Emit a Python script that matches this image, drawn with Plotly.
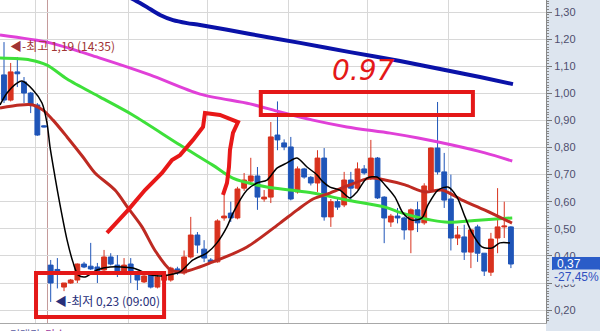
import plotly.graph_objects as go

# ---------------- data (candle index, price) ----------------
idx = list(range(77))
open_ = [1.068, 0.975, 1.079, 1.042, 1.001, 0.957, 0.880, 0.366, 0.350, 0.285,
         0.300, 0.311, 0.370, 0.362, 0.359, 0.348, 0.396, 0.366, 0.340, 0.370,
         0.333, 0.304, 0.330, 0.285, 0.310, 0.311, 0.352, 0.337, 0.396, 0.477,
         0.425, 0.385, 0.378, 0.540, 0.558, 0.540, 0.650, 0.676, 0.695, 0.610,
         0.617, 0.846, 0.817, 0.802, 0.636, 0.721, 0.690, 0.669, 0.761, 0.544,
         0.600, 0.588, 0.680, 0.650, 0.721, 0.687, 0.761, 0.617, 0.525, 0.547,
         0.540, 0.496, 0.570, 0.522, 0.643, 0.798, 0.710, 0.610, 0.466, 0.470,
         0.414, 0.507, 0.410, 0.340, 0.466, 0.507, 0.507]
high = [1.189, 1.112, 1.134, 1.060, 1.005, 0.964, 0.882, 0.385, 0.392, 0.300,
        0.315, 0.372, 0.378, 0.448, 0.374, 0.422, 0.410, 0.403, 0.392, 0.392,
        0.340, 0.333, 0.337, 0.330, 0.335, 0.360, 0.360, 0.420, 0.544, 0.488,
        0.458, 0.392, 0.535, 0.625, 0.600, 0.655, 0.706, 0.762, 0.728, 0.643,
        0.894, 0.970, 0.830, 0.839, 0.730, 0.725, 0.695, 0.790, 0.798, 0.610,
        0.614, 0.710, 0.710, 0.745, 0.735, 0.828, 0.765, 0.620, 0.555, 0.577,
        0.545, 0.575, 0.600, 0.668, 0.800, 0.968, 0.780, 0.700, 0.510, 0.515,
        0.500, 0.515, 0.410, 0.485, 0.650, 0.600, 0.510]
low = [0.964, 0.970, 1.023, 0.964, 0.927, 0.843, 0.874, 0.230, 0.280, 0.270,
       0.297, 0.300, 0.355, 0.348, 0.300, 0.345, 0.365, 0.322, 0.335, 0.300,
       0.274, 0.300, 0.280, 0.280, 0.305, 0.305, 0.330, 0.330, 0.390, 0.410,
       0.377, 0.374, 0.375, 0.530, 0.525, 0.535, 0.640, 0.670, 0.570, 0.600,
       0.595, 0.790, 0.790, 0.605, 0.630, 0.685, 0.660, 0.636, 0.530, 0.507,
       0.570, 0.580, 0.605, 0.645, 0.700, 0.680, 0.610, 0.447, 0.507, 0.520,
       0.460, 0.410, 0.488, 0.515, 0.640, 0.700, 0.577, 0.420, 0.440, 0.385,
       0.355, 0.378, 0.326, 0.326, 0.410, 0.466, 0.355]
close = [0.975, 1.079, 1.072, 1.001, 0.957, 0.846, 0.876, 0.300, 0.345, 0.300,
         0.311, 0.370, 0.359, 0.352, 0.340, 0.396, 0.370, 0.337, 0.366, 0.340,
         0.311, 0.326, 0.285, 0.322, 0.330, 0.355, 0.337, 0.396, 0.477, 0.440,
         0.392, 0.378, 0.529, 0.547, 0.540, 0.647, 0.680, 0.695, 0.617, 0.617,
         0.839, 0.828, 0.802, 0.610, 0.721, 0.691, 0.669, 0.761, 0.544, 0.600,
         0.580, 0.680, 0.650, 0.721, 0.706, 0.761, 0.614, 0.540, 0.547, 0.540,
         0.496, 0.570, 0.522, 0.658, 0.798, 0.710, 0.606, 0.466, 0.477, 0.414,
         0.496, 0.410, 0.344, 0.462, 0.507, 0.510, 0.370]

# moving-average lines (x = candle index)
ma_blue_x = [18.14, 20.39, 21.44, 23.39, 25.34, 27.44, 29.39, 36.88, 44.38, 51.87, 59.37, 66.87, 71.36, 76.31]
ma_blue_y = [1.363, 1.333, 1.318, 1.289, 1.270, 1.259, 1.252, 1.219, 1.186, 1.152, 1.119, 1.082, 1.060, 1.034]
ma_mag_x = [-0.6, 6.9, 14.4, 21.9, 29.4, 36.9, 41.4, 46.3, 51.4, 57.9, 62.1, 67.2, 72.1, 76.2]
ma_mag_y = [1.215, 1.186, 1.130, 1.068, 0.997, 0.961, 0.931, 0.901, 0.876, 0.853, 0.835, 0.809, 0.780, 0.750]
ma_green_x = [-0.6, 3.9, 6.45, 9.45, 14.4, 19.3, 26.4, 31.3, 34.3, 39.4, 42.9, 46.3, 51.4, 57.1, 60.1, 66.1, 71.1, 76.2]
ma_green_y = [1.130, 1.123, 1.104, 1.053, 0.986, 0.920, 0.809, 0.735, 0.687, 0.654, 0.643, 0.632, 0.606, 0.580, 0.555, 0.525, 0.532, 0.540]
ma_red_x = [-0.6, 2.4, 4.35, 5.85, 7.35, 9.45, 11.84, 13.64, 16.64, 18.59, 20.69, 22.64, 24.89, 26.8,
            31.33, 36.43, 41.38, 43.93, 46.33, 48.88, 51.42, 54.87, 57.12, 60.12, 63.12, 65.67, 68.67, 72.11, 76.16]
ma_red_y = [0.946, 0.957, 0.957, 0.938, 0.901, 0.839, 0.765, 0.706, 0.643, 0.577, 0.507, 0.420, 0.350, 0.341,
            0.378, 0.433, 0.521, 0.569, 0.610, 0.632, 0.658, 0.687, 0.680, 0.662, 0.636, 0.643, 0.606, 0.569, 0.521]
ma_black_x = [-0.6, 0.45, 1.95, 2.7, 4.35, 5.7, 6.45, 6.9, 7.65, 8.4, 9.45, 10.34, 11.1, 12.14, 13.94, 15.9,
              19.34, 21.9, 23.84, 25.34, 26.39, 28.34, 30.43, 31.93, 33.43, 34.33, 36.43, 37.93, 39.43, 40.93,
              42.43, 43.93, 45.43, 46.93, 47.83, 48.88, 50.37, 51.87, 52.92, 54.42, 55.92, 57.12, 58.62, 59.82,
              61.17, 62.67, 63.57, 65.07, 66.57, 67.92, 69.12, 70.16, 71.66, 73.16, 74.36, 75.86]
ma_black_y = [0.957, 1.001, 1.038, 1.045, 1.012, 0.964, 0.890, 0.802, 0.691, 0.588, 0.459, 0.377, 0.330, 0.322,
              0.348, 0.359, 0.355, 0.330, 0.326, 0.333, 0.341, 0.385, 0.411, 0.448, 0.507, 0.558, 0.643, 0.669,
              0.680, 0.724, 0.743, 0.761, 0.728, 0.699, 0.673, 0.654, 0.643, 0.614, 0.636, 0.687, 0.691, 0.662,
              0.617, 0.558, 0.532, 0.540, 0.588, 0.643, 0.654, 0.617, 0.544, 0.485, 0.433, 0.429, 0.448, 0.448]

# hand-drawn red marks (data coordinates)
pen_x = [15.44, 18.59, 21.14, 23.69, 25.19, 26.39, 28.34, 29.84, 30.13, 32.38, 35.08, 34.33, 33.88, 33.73, 33.43, 32.83]
pen_y = [0.485, 0.569, 0.643, 0.706, 0.754, 0.772, 0.828, 0.876, 0.927, 0.920, 0.894, 0.854, 0.791, 0.728, 0.669, 0.625]
box_hi = [38.5, 70.3, 0.920, 1.005]
box_lo = [4.8, 24.0, 0.175, 0.337]

tick_vals = [0.2, 0.3, 0.4, 0.5, 0.6, 0.7, 0.8, 0.9, 1.0, 1.1, 1.2, 1.3]
tick_text = ["0,20", "0,30", "0,40", "0,50", "0,60", "0,70", "0,80", "0,90", "1,00", "1,10", "1,20", "1,30"]
grid_x = [4.65, 18.59, 30.58, 42.58, 54.57, 66.57]
day_sep = 6.52
last_price = 0.37

# ---------------- figure ----------------
fig = go.Figure()
fig.add_trace(go.Candlestick(
    x=idx, open=open_, high=high, low=low, close=close,
    increasing=dict(line=dict(color='#d8321e', width=1), fillcolor='#d8321e'),
    decreasing=dict(line=dict(color='#1f55b8', width=1), fillcolor='#1f55b8'),
    whiskerwidth=0, hoverinfo='skip', showlegend=False))

def ma(x, y, color, width):
    fig.add_trace(go.Scatter(x=x, y=y, mode='lines', line=dict(color=color, width=width, shape='spline', smoothing=0.8),
                             hoverinfo='skip', showlegend=False))

ma(ma_blue_x, ma_blue_y, '#0a12a8', 4)
ma(ma_mag_x, ma_mag_y, '#e040d8', 3)
ma(ma_green_x, ma_green_y, '#3ee03a', 3)
ma(ma_red_x, ma_red_y, '#be2a22', 3)
ma(ma_black_x, ma_black_y, '#000000', 1.5)

fig.add_trace(go.Scatter(x=pen_x, y=pen_y, mode='lines', line=dict(color='#e81818', width=4),
                         hoverinfo='skip', showlegend=False))

shapes = []
shapes.append(dict(type='rect', xref='paper', yref='paper', x0=1, x1=1.1, y0=-0.05, y1=1.0,
                   fillcolor='#dde5ef', line=dict(width=0), layer='below'))
shapes.append(dict(type='line', xref='x', yref='paper', x0=day_sep, x1=day_sep, y0=0, y1=1,
                   line=dict(color='#c49a9a', width=1), layer='below'))
for b in (box_hi, box_lo):
    shapes.append(dict(type='rect', xref='x', yref='y', x0=b[0], x1=b[1], y0=b[2], y1=b[3],
                       line=dict(color='#e41818', width=4), fillcolor='rgba(0,0,0,0)', layer='above'))
shapes.append(dict(type='rect', xref='paper', yref='y', x0=552/546, x1=1.1, y0=0.348, y1=0.396,
                   fillcolor='#2a5cc8', line=dict(width=0), layer='above'))

annotations = [
    dict(xref='x', yref='y', x=0.6, y=1.178, text='◀-최고 1,19 (14:35)', showarrow=False, xanchor='left',
         font=dict(family='Noto Sans CJK KR', size=12, color='#a03434')),
    dict(xref='x', yref='y', x=7.4, y=0.236, text='◀-최저 0,23 (09:00)', showarrow=False, xanchor='left',
         font=dict(family='Noto Sans CJK KR', size=12, color='#28307a')),
    dict(xref='x', yref='y', x=53.97, y=1.086, text='<i>0.97</i>', showarrow=False,
         font=dict(family='DejaVu Sans', size=28, color='#e41818')),
    dict(xref='paper', yref='y', x=555/546, y=last_price, text='0,37', showarrow=False, xanchor='left',
         font=dict(family='Liberation Sans', size=12, color='#ffffff')),
    dict(xref='paper', yref='y', x=553/546, y=0.322, text='-27,45%', showarrow=False, xanchor='left',
         bgcolor='#dde5ef', borderpad=0, font=dict(family='Liberation Sans', size=12, color='#3050c0')),
    dict(xref='paper', yref='paper', x=8/546, y=-0.034, yanchor='middle', xanchor='left', showarrow=False,
         text="<span style='color:#5a5aa0'>거래량</span>  <span style='color:#a040a0'>단순</span>  "
              "<span style='color:#333'>5</span> <span style='color:#c8c020'>20</span> "
              "<span style='color:#30a030'>60</span> <span style='color:#333'>120</span>",
         font=dict(family='Noto Sans CJK KR', size=11)),
]

fig.update_layout(
    width=600, height=331, margin=dict(l=0, r=54, t=0, b=8),
    paper_bgcolor='#ffffff', plot_bgcolor='#ffffff',
    boxgap=0.15, boxgroupgap=0.15,
    shapes=shapes, annotations=annotations, showlegend=False,
    xaxis=dict(range=[-0.6, 81.26], rangeslider=dict(visible=False), tickvals=grid_x, showticklabels=False,
               ticks='', showgrid=True, gridcolor='#d8d8d8', zeroline=False, showline=True,
               linecolor='#a8a8a8', fixedrange=True),
    yaxis=dict(side='right', range=[0.1524, 1.3443], tickvals=tick_vals, ticktext=tick_text,
               showgrid=True, gridcolor='#d8d8d8', zeroline=False, showline=True, linecolor='#888888',
               ticks='outside', ticklen=5, tickcolor='#777777',
               minor=dict(dtick=0.01, tick0=0, ticks='outside', ticklen=2, tickcolor='#888888', showgrid=False),
               tickfont=dict(family='Liberation Sans', size=11, color='#4e4e6e'), fixedrange=True),
)

fig.write_html("out.html")
